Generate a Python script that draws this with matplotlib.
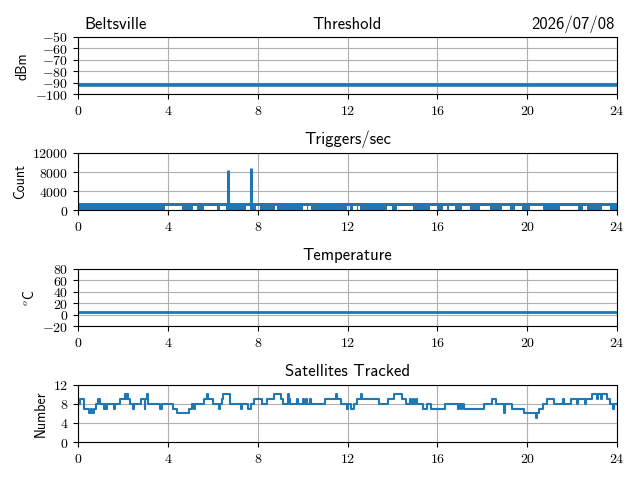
import matplotlib
matplotlib.use("Agg")
from matplotlib import pyplot as plt
from matplotlib.ticker import FuncFormatter
import numpy as np

plt.rcParams['font.family'] = ['cmss10', 'DejaVu Sans']
plt.rcParams['mathtext.fontset'] = 'cm'
plt.rcParams['axes.unicode_minus'] = False

# threshold (dBm), read roughly every hour
thr_hours = [0, 2, 4, 6, 8, 10, 12, 14, 16, 18, 20, 22, 24]
thr_dbm = [-91.5, -91.5, -91.5, -91.5, -91.5, -91.5, -91.5, -91.5, -91.5, -91.5, -91.5, -91.5, -91.5]

# triggers/sec: band of dense samples, lower part missing in the gaps
trig_low = 850
trig_high = 1450
gap_start = [3.87, 5.13, 5.61, 6.32, 7.48, 7.93, 8.77, 10.0, 10.25, 11.99, 12.23, 12.45,
             13.74, 14.19, 15.67, 16.25, 16.5, 17.08, 17.9, 18.86, 19.46, 20.12, 21.46, 22.5, 23.32]
gap_end = [4.62, 5.31, 6.2, 6.59, 7.66, 8.1, 8.85, 10.18, 10.36, 12.11, 12.4, 12.56,
           13.97, 14.9, 15.97, 16.42, 16.79, 17.45, 18.34, 19.23, 19.75, 20.72, 22.27, 22.65, 23.69]
spike_hours = [6.67, 7.69]
spike_peaks = [8420, 8840]

# temperature (C)
temp_hours = [0, 6, 12, 18, 24]
temp_c = [4.5, 4.5, 4.5, 4.5, 4.5]

# satellites tracked (value holds until next change)
sat_hours = [0.0, 0.1, 0.28, 0.5, 0.58, 0.62, 0.7, 0.8, 0.9, 0.96, 1.15, 1.2, 1.26, 1.3, 1.62, 1.66,
             1.87, 2.08, 2.14, 2.2, 2.24, 2.3, 2.44, 2.5, 2.78, 2.96, 3.0, 3.08, 3.12, 3.66, 3.74,
             4.24, 4.4, 4.92, 5.08, 5.17, 5.21, 5.62, 5.72, 5.78, 6.0, 6.28, 6.34, 6.42, 6.46, 6.78,
             7.25, 7.3, 7.58, 7.7, 7.82, 8.18, 8.4, 8.74, 9.04, 9.12, 9.36, 9.4, 9.46, 9.76, 9.8,
             10.0, 10.04, 10.16, 10.2, 10.34, 10.38, 10.98, 11.5, 11.55, 11.7, 11.98, 12.04, 12.14,
             12.3, 12.44, 12.62, 12.66, 13.4, 13.8, 14.06, 14.44, 14.6, 14.8, 14.84, 14.92, 14.98,
             15.04, 15.1, 15.36, 15.52, 15.7, 16.36, 16.9, 16.96, 17.04, 17.1, 17.2, 18.06, 18.44,
             18.6, 18.96, 18.98, 19.02, 19.34, 19.86, 20.38, 20.42, 20.52, 20.7, 20.88, 21.2, 21.6,
             21.64, 21.96, 22.24, 22.28, 22.56, 22.6, 22.9, 23.1, 23.14, 23.3, 23.34, 23.56, 23.7,
             23.84, 23.88, 24.0]
sat_count = [8, 9, 7, 6, 7, 6, 7, 8, 9, 8, 7, 8, 7, 8, 7, 8,
             9, 10, 9, 10, 9, 8, 7, 8, 9, 7, 9, 10, 8, 7, 8,
             7, 6, 7, 8, 7, 8, 9, 10, 9, 8, 7, 8, 9, 10, 8,
             7, 8, 7, 8, 9, 8, 9, 10, 9, 8, 10, 9, 8, 9, 8,
             9, 8, 9, 8, 9, 8, 9, 10, 9, 8, 7, 8, 7,
             8, 9, 10, 9, 8, 9, 10, 9, 8, 9, 8, 9, 8,
             9, 8, 7, 8, 7, 8, 7, 8, 7, 8, 7, 8, 9,
             8, 7, 6, 8, 7, 6, 5, 6, 7, 8, 9, 8, 9,
             8, 9, 8, 9, 8, 9, 10, 9, 10, 9, 10, 9, 8,
             7, 8, 8]

blue = '#1f77b4'


def mathfmt(v, pos):
    return '$%d$' % round(v)


fig, axes = plt.subplots(4, 1, figsize=(6.4, 4.8), dpi=100)
fig.subplots_adjust(left=0.122, right=0.964, top=0.923, bottom=0.079, hspace=1.014)

ax = axes[0]
ax.plot(thr_hours, thr_dbm, color=blue, lw=2.6)
ax.set_ylim(-100, -50)
ax.set_yticks([-100, -90, -80, -70, -60, -50])
ax.set_ylabel('dBm')
ax.set_title('Threshold')
ax.set_title('Beltsville', loc='left', x=0.012)
ax.set_title('2026/07/08', loc='right', x=0.995)

ax = axes[1]
edges = [0.0]
lows = [0]
for s, e in zip(gap_start, gap_end):
    edges += [s, e]
    lows += [trig_low, 0]
edges.append(24.0)
lows.append(0)
ax.fill_between(edges, lows, trig_high, step='post', color=blue, lw=0, zorder=2)
ax.vlines(spike_hours, 0, spike_peaks, color=blue, lw=2.2, zorder=2)
ax.set_ylim(0, 12000)
ax.set_yticks([0, 4000, 8000, 12000])
ax.set_ylabel('Count')
ax.set_title('Triggers/sec')

ax = axes[2]
ax.plot(temp_hours, temp_c, color=blue, lw=2)
ax.set_ylim(-20, 80)
ax.set_yticks([-20, 0, 20, 40, 60, 80])
ax.set_ylabel(r'$^o$C')
ax.set_title('Temperature')

ax = axes[3]
ax.plot(sat_hours, sat_count, color=blue, drawstyle='steps-post')
ax.set_ylim(0, 12)
ax.set_yticks([0, 4, 8, 12])
ax.set_ylabel('Number')
ax.set_title('Satellites Tracked')

for ax in axes:
    ax.set_xlim(0, 24)
    ax.set_xticks(range(0, 25, 4))
    ax.grid(True)
    ax.xaxis.set_major_formatter(FuncFormatter(mathfmt))
    ax.yaxis.set_major_formatter(FuncFormatter(mathfmt))

fig.savefig('out.png')
